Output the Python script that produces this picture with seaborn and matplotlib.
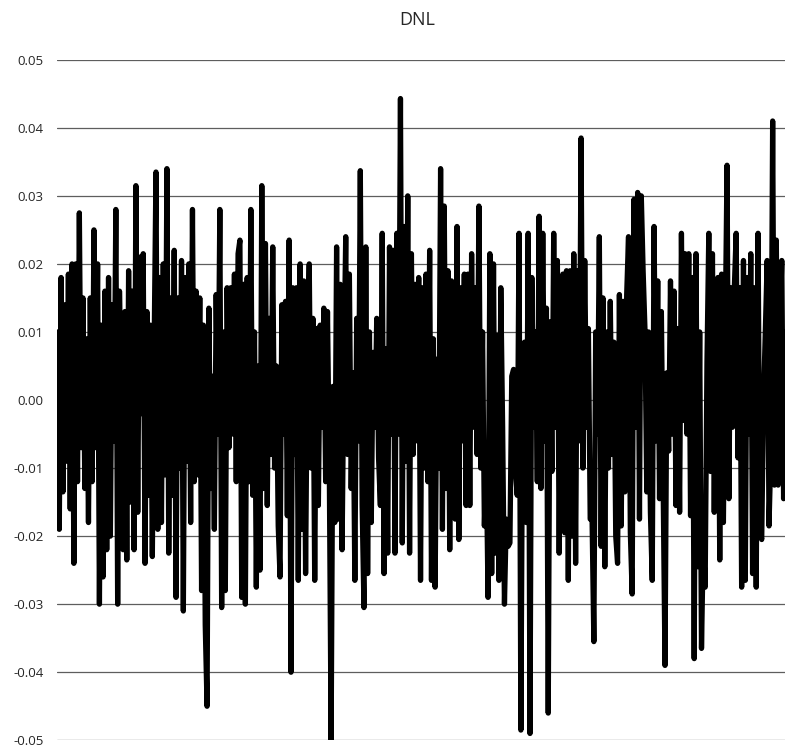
import numpy as np
import pandas as pd
import matplotlib
matplotlib.use("Agg")
import matplotlib.pyplot as plt
import seaborn as sns

sns.set_style("white")
plt.rcParams["font.family"] = ["Open Sans", "DejaVu Sans"]
plt.rcParams["axes.unicode_minus"] = False

# DNL per code left to right (three stretches)
dnl_left = [
    0.010, -0.019, 0.018, -0.0135, 0.014, -0.009, 0.0185, -0.016, 0.020, -0.024,
    0.020, -0.012, 0.0275, -0.007, 0.015, -0.013, 0.009, -0.018, 0.015, -0.012,
    0.025, -0.007, 0.020, -0.030, 0.011, -0.026, 0.016, -0.022, 0.018, -0.020,
    0.014, -0.006, 0.028, -0.030, 0.016, 0.001, -0.022, 0.013, -0.0235, 0.019,
    -0.015, 0.016, -0.022, 0.0315, -0.0165, 0.021, -0.002, 0.0215, -0.024, 0.013,
    -0.014, 0.011, -0.023, 0.008, 0.0335, -0.019, 0.018, -0.018, 0.020, -0.011,
    0.034, -0.0225, 0.015, -0.014, 0.022, -0.029, 0.015, -0.010, 0.0205, -0.031,
    0.018, -0.009, 0.020, -0.018, 0.028, -0.012, 0.016, -0.011, 0.015, -0.028,
    0.011, -0.033, -0.045, 0.0135, -0.013, 0.0035, -0.019, 0.0155, -0.005, 0.028,
    -0.0305, 0.010, -0.028, 0.0165, -0.007, 0.0165, -0.005, 0.0185, -0.012, 0.0215,
]
dnl_mid = [
    0.0235, -0.029, 0.017, -0.030, 0.018, -0.012, 0.028, -0.014, 0.010, -0.0275,
    0.005, -0.025, 0.0315, -0.013, 0.023, -0.0155, 0.012, -0.008, 0.0225, -0.010,
    0.005, -0.0185, -0.026, 0.014, -0.005, 0.0145, -0.017, 0.0235, -0.040, 0.0165,
    -0.008, 0.0165, -0.0265, 0.020, -0.019, 0.0175, -0.0255, 0.0075, 0.020, -0.010,
    0.012, -0.0265, 0.0105, -0.0155, 0.011, -0.004, 0.0135, -0.012, 0.013, -0.010,
    -0.050, 0.002, -0.018, 0.0225, -0.0175, 0.017, -0.022, 0.005, 0.024, -0.008,
    0.0185, -0.013, 0.004, -0.0265, 0.012, -0.006, 0.0337, -0.0155, -0.0305, 0.0225,
    -0.0255, 0.010, -0.018, 0.007, -0.004, 0.012, -0.0085, -0.0155, 0.0245, -0.0255,
    0.0075, -0.0225, 0.0225, -0.005, 0.022, -0.0225, 0.0245, -0.005, 0.0443, -0.021,
    0.0255, -0.009, 0.030, -0.0225, 0.0215, -0.008, 0.017, -0.006, 0.018, -0.0265,
    0.0165, -0.010, 0.0185, -0.012, 0.022, -0.0265, 0.009, -0.0275, 0.006, -0.010,
    0.034, -0.019, 0.0285, -0.013, 0.019, -0.022, 0.0175, -0.008, -0.0175, 0.0255,
    -0.0205, 0.0165, -0.006, 0.0185, -0.0155, 0.0185, -0.0155, 0.0215, -0.004, 0.0165,
    -0.008, 0.0285, -0.010, 0.010, -0.0185, -0.008, -0.029, 0.0215, -0.0255, 0.020,
    -0.0225, 0.0095, -0.0265, 0.0165, -0.004, -0.030, -0.0175, -0.0215, -0.021, 0.0035,
    0.0045, -0.0105, -0.014, 0.0245,
]
dnl_right = [
    -0.0485, 0.0035, 0.0085, -0.018, 0.0245, -0.049, 0.018, -0.004, 0.010, -0.012,
    0.027, -0.013, 0.0245, -0.006, 0.0135, -0.046, 0.0115, -0.0105, 0.0245, -0.004,
    0.0205, -0.0225, 0.012, 0.0185, -0.0195, 0.019, -0.0265, 0.019, -0.020, 0.0215,
    -0.024, 0.019, -0.006, 0.0385, -0.010, 0.0205, -0.004, 0.0105, -0.0175, -0.017,
    -0.0355, 0.010, -0.005, 0.024, -0.0215, 0.015, -0.0245, 0.010, -0.010, 0.0145,
    -0.008, 0.0085, -0.020, -0.024, 0.0155, -0.0185, 0.0145, -0.0135, 0.0155, 0.024,
    -0.0195, -0.0285, 0.0295, -0.004, 0.0305, -0.0175, 0.030, 0.019, 0.0105, -0.0135,
    0.010, -0.0165, -0.0265, 0.0255, -0.006, 0.0175, -0.0145, 0.013, -0.0135, -0.039,
    0.004, -0.0075, 0.0175, -0.005, 0.016, -0.0155, 0.0105, -0.0165, 0.0245, -0.003,
    0.0215, -0.005, 0.0215, -0.017, 0.018, -0.038, 0.0215, -0.0245, 0.010, -0.0365,
    -0.0205, -0.0275, 0.0055, 0.0245, -0.0105, 0.0215, -0.0165, 0.0145, 0.018, -0.0235,
    0.0185, -0.018, 0.010, 0.0345, -0.0145, 0.0165, -0.004, 0.0165, 0.0245, -0.0085,
    0.0165, -0.0275, 0.0205, -0.0265, 0.018, -0.005, 0.0215, -0.0255, 0.0165, -0.0275,
    0.0245, -0.019, -0.0205, 0.0, 0.0105, 0.0205, -0.0185, -0.008, 0.041, -0.0125,
    0.0235, -0.0125, 0.0105, 0.0205, -0.0145, 0.010,
]
y_ticks = [-0.05, -0.04, -0.03, -0.02, -0.01, 0.00, 0.01, 0.02, 0.03, 0.04, 0.05]

dnl = dnl_left + dnl_mid + dnl_right
df = pd.DataFrame({"code": np.arange(len(dnl)), "dnl": dnl})

fig = plt.figure(figsize=(7.87, 7.47), dpi=100)
ax = fig.add_axes([0.073, 0.009, 0.925, 0.911])

ax.set_yticks(y_ticks)
ax.yaxis.grid(True, color="#5e5e5e", linewidth=0.9)
ax.set_axisbelow(True)

sns.lineplot(data=df, x="code", y="dnl", color="black", linewidth=3.8, ax=ax)

ax.set_ylim(-0.05, 0.05)
ax.set_xlim(0, len(dnl) - 1)
ax.set_yticklabels([f"{t:.2f}" for t in y_ticks], fontsize=9.5)
ax.set_xticks([])
ax.set_xlabel("")
ax.set_ylabel("")
ax.tick_params(axis="y", length=0, pad=10)
for s in ax.spines.values():
    s.set_visible(False)

fig.suptitle("DNL", x=0.53, y=0.985, fontsize=13)

fig.savefig("out.png", dpi=100)
plt.close()
